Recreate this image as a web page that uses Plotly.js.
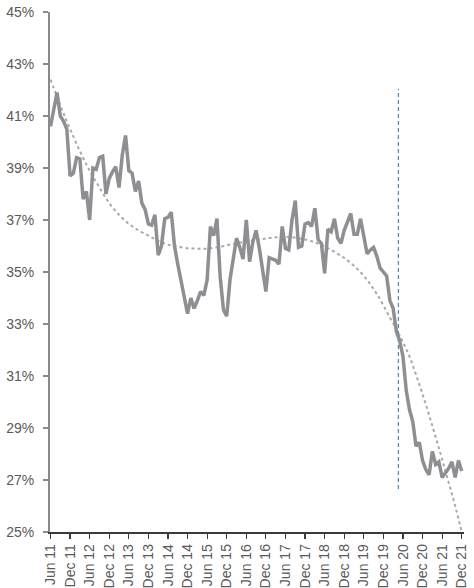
<!DOCTYPE html>
<html>
<head>
<meta charset="utf-8">
<script src="https://cdn.plot.ly/plotly-3.0.1.min.js"></script>
<style>html,body{margin:0;padding:0;background:#fff;}#chart{width:474px;height:588px;}</style>
</head>
<body>
<div id="chart"></div>
<script>
// Monthly index: 0 = Jun 2011 ... 126 = Dec 2021
var shareValues = [
  40.6, 41.2, 41.9, 41.0, 40.8, 40.5, 38.7, 38.8, 39.4, 39.35,
  37.8, 38.1, 37.0, 39.0, 38.95, 39.4, 39.45, 38.0, 38.6, 38.85,
  39.05, 38.25, 39.5, 40.25, 38.9, 38.8, 38.1, 38.5, 37.65, 37.4,
  36.85, 36.8, 37.2, 35.65, 36.0, 37.05, 37.1, 37.3, 36.0, 35.3,
  34.7, 34.05, 33.4, 34.0, 33.6, 33.9, 34.25, 34.1, 34.7, 36.75,
  36.4, 37.05, 34.8, 33.55, 33.3, 34.7, 35.5, 36.3, 35.95, 35.5,
  37.0, 35.4, 36.15, 36.6, 35.9, 35.1, 34.25, 35.55, 35.5, 35.45,
  35.3, 36.75, 35.9, 35.85, 37.0, 37.75, 35.95, 36.0, 36.85, 36.9,
  36.75, 37.45, 36.25, 36.1, 34.95, 36.65, 36.55, 37.05, 36.3, 36.1,
  36.6, 36.9, 37.25, 36.45, 36.45, 37.05, 36.45, 35.7, 35.85, 35.95,
  35.6, 35.15, 35.0, 34.85, 33.9, 33.6, 32.7, 32.35, 31.75, 30.45,
  29.7, 29.25, 28.3, 28.45, 27.75, 27.4, 27.2, 28.1, 27.6, 27.7,
  27.1, 27.25, 27.45, 27.7, 27.1, 27.75, 27.35
];

var trendMonths = [0, 2, 4, 6, 9, 12, 15, 18, 21, 24, 27, 30, 33, 36, 40, 44, 48, 52, 56, 60,
  64, 68, 72, 76, 80, 84, 88, 92, 96, 100, 104, 106, 108, 110, 112, 114, 116, 118, 120, 122, 124, 126];
var trendValues = [42.4, 41.75, 41.1, 40.5, 39.65, 38.9, 38.25, 37.65, 37.2, 36.85, 36.6, 36.4, 36.2, 36.05, 35.95, 35.9, 35.9, 35.97, 36.08, 36.17,
  36.25, 36.32, 36.35, 36.3, 36.18, 35.98, 35.7, 35.35, 34.85, 34.15, 33.25, 32.8, 32.3, 31.75, 31.05, 30.3, 29.5, 28.65, 27.8, 26.9, 26.0, 25.0];

var markerMonth = [106.6, 106.6];
var markerRange = [26.65, 42.05];

var tickMonths = [0, 6, 12, 18, 24, 30, 36, 42, 48, 54, 60, 66, 72, 78, 84, 90, 96, 102, 108, 114, 120, 126];
var tickLabels = ["Jun 11", "Dec 11", "Jun 12", "Dec 12", "Jun 13", "Dec 13", "Jun 14", "Dec 14",
  "Jun 15", "Dec 15", "Jun 16", "Dec 16", "Jun 17", "Dec 17", "Jun 18", "Dec 18",
  "Jun 19", "Dec 19", "Jun 20", "Dec 20", "Jun 21", "Dec 21"];

var months = [];
for (var i = 0; i < shareValues.length; i++) months.push(i);

var traces = [
  {
    x: markerMonth, y: markerRange, mode: 'lines', type: 'scatter',
    line: {color: '#4f87b6', width: 1.2, dash: '4px,3px'}, hoverinfo: 'skip'
  },
  {
    x: trendMonths, y: trendValues, mode: 'lines', type: 'scatter',
    line: {color: '#a9a9ab', width: 2, dash: 'dot', shape: 'spline', smoothing: 1.0}, hoverinfo: 'skip'
  },
  {
    x: months, y: shareValues, mode: 'lines', type: 'scatter',
    line: {color: '#8f8f93', width: 3.5}
  }
];

var layout = {
  width: 474, height: 588,
  margin: {l: 50, r: 10, t: 12, b: 56},
  paper_bgcolor: '#ffffff', plot_bgcolor: '#ffffff',
  showlegend: false,
  font: {family: '"Liberation Sans", Arial, sans-serif', size: 14, color: '#5a5a5a'},
  xaxis: {
    range: [-0.15, 126.7],
    tickmode: 'array', tickvals: tickMonths, ticktext: tickLabels,
    tickangle: -90,
    showgrid: false, zeroline: false,
    showline: true, linecolor: '#3a3a3a', linewidth: 1.5,
    ticks: 'outside', ticklen: 5, tickwidth: 1.2, tickcolor: '#3a3a3a',
    tickfont: {family: '"Liberation Sans", Arial, sans-serif', size: 14, color: '#5a5a5a'}
  },
  yaxis: {
    range: [25, 45], dtick: 2, tick0: 25,
    ticksuffix: '%',
    showgrid: false, zeroline: false,
    showline: true, linecolor: '#8a8a8a', linewidth: 2,
    ticks: 'outside', ticklen: 5, tickwidth: 1.2, tickcolor: '#8a8a8a',
    ticklabelstandoff: 6,
    tickfont: {family: '"Liberation Sans", Arial, sans-serif', size: 14, color: '#5a5a5a'}
  }
};

Plotly.newPlot('chart', traces, layout, {displayModeBar: false, staticPlot: true});
</script>
</body>
</html>
